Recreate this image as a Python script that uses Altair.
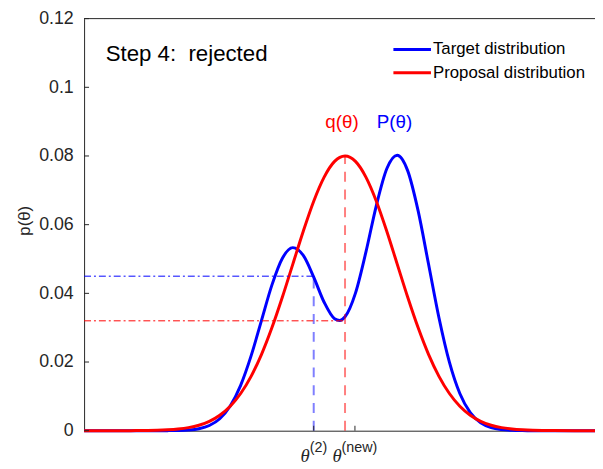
import altair as alt
import pandas as pd

# ---------------- data ----------------
theta = [-5.0, -4.6, -4.2, -4.0, -3.8, -3.6, -3.4, -3.2, -3.0, -2.8, -2.6, -2.4,
         -2.2, -2.0, -1.8, -1.6, -1.4, -1.2, -1.0, -0.8, -0.6, -0.4, -0.2, -0.1,
         0.0, 0.2, 0.4, 0.6, 0.8, 1.0, 1.2, 1.4, 1.6, 1.8, 2.0, 2.2, 2.4, 2.6,
         2.8, 3.0, 3.2, 3.4, 3.6, 3.8, 4.0, 4.4, 4.79]
target = [0.0, 0.0, 0.0, 0.0, 0.0, 0.000004, 0.000018, 0.000064, 0.000205, 0.000589,
          0.001514, 0.003483, 0.007171, 0.01322, 0.02179, 0.03215, 0.04247, 0.05024,
          0.05331, 0.05103, 0.04472, 0.03740, 0.03261, 0.03211, 0.03317, 0.04006,
          0.05200, 0.06557, 0.07627, 0.08021, 0.07574, 0.06408, 0.04852, 0.03289,
          0.01995, 0.01082, 0.00526, 0.00229, 0.00089, 0.00031, 0.00010, 0.00003,
          0.00001, 0.0, 0.0, 0.0, 0.0]
proposal = [0.0, 0.0, 0.00001, 0.00003, 0.00006, 0.00012, 0.00025, 0.00048, 0.00089,
            0.00159, 0.00272, 0.00449, 0.00711, 0.01083, 0.01583, 0.02224, 0.03003,
            0.03894, 0.04852, 0.05809, 0.06683, 0.07385, 0.07842, 0.0796, 0.08,
            0.07842, 0.07385, 0.06683, 0.05809, 0.04852, 0.03894, 0.03003, 0.02224,
            0.01583, 0.01083, 0.00711, 0.00449, 0.00272, 0.00159, 0.00089, 0.00048,
            0.00025, 0.00012, 0.00006, 0.00003, 0.0, 0.0]

series_names = ["Target distribution", "Proposal distribution"]
series_colors = ["#0000ff", "#ff0000"]

y_ticks = [0, 0.02, 0.04, 0.06, 0.08, 0.1, 0.12]
x_tick_values = [-0.6, 0.19]

theta_2 = -0.6          # theta^(2)
theta_new = 0.0         # theta^(new)
p_theta_2 = 0.045       # P(theta^(2)) level
p_theta_new = 0.032     # P(theta^(new)) level
q_theta_new = 0.08      # q(theta^(new))

X_MIN, X_MAX = -5.0, 4.79
Y_MIN, Y_MAX = 0.0, 0.12

title_text = "Step 4:\u00a0 rejected"
q_label = "q(θ)"
p_label = "P(θ)"

W, H = 517, 417
AXIS_COLOR = "#262626"
FONT = "Liberation Sans"

# ---------------- tables ----------------
df = pd.DataFrame({
    "theta": theta * 2,
    "p": target + proposal,
    "series": [series_names[0]] * len(theta) + [series_names[1]] * len(theta),
})

xs = alt.Scale(domain=[X_MIN, X_MAX], nice=False, zero=False)
ys = alt.Scale(domain=[Y_MIN, Y_MAX], nice=False, zero=False)
cs = alt.Scale(domain=series_names, range=series_colors)

x_axis = alt.Axis(domain=True, domainColor=AXIS_COLOR, domainWidth=1, labels=False,
                  ticks=False, grid=False, title=None)
y_axis = alt.Axis(values=y_ticks, format=".2~f", domain=True, domainColor=AXIS_COLOR,
                  domainWidth=1, ticks=False, grid=False, labelFont=FONT,
                  labelFontSize=18, labelColor=AXIS_COLOR, labelPadding=11,
                  title="p(θ)", titleFont=FONT, titleFontSize=17,
                  titleFontWeight="normal", titleColor=AXIS_COLOR,
                  titleAngle=270, titleX=-60, titleY=204, titleAlign="center",
                  titleBaseline="middle")


def X(field):
    return alt.X(field, scale=xs, axis=x_axis)


def Y(field):
    return alt.Y(field, scale=ys, axis=y_axis)


target_line = alt.Chart(df[df.series == series_names[0]]).mark_line(
    strokeWidth=3, interpolate="monotone"
).encode(
    x=X("theta:Q"), y=Y("p:Q"),
    color=alt.Color("series:N", scale=cs, legend=None),
)
proposal_line = alt.Chart(df[df.series == series_names[1]]).mark_line(
    strokeWidth=3, interpolate="monotone"
).encode(
    x=X("theta:Q"), y=Y("p:Q"),
    color=alt.Color("series:N", scale=cs, legend=None),
)

one = pd.DataFrame({"a": [0]})

# vertical dashed guides
vguides = pd.DataFrame({"x": [theta_2, theta_new], "y0": [0.0, 0.0],
                        "y2": [p_theta_2, q_theta_new],
                        "c": [series_colors[0], series_colors[1]]})
vlines = alt.Chart(vguides).mark_rule(strokeWidth=2, strokeDash=[10, 8], opacity=0.5).encode(
    x=X("x:Q"), y=Y("y0:Q"), y2="y2:Q",
    color=alt.Color("c:N", scale=None, legend=None),
)

# horizontal dash-dot guides
hguides = pd.DataFrame({"y": [p_theta_2, p_theta_new], "x0": [X_MIN, X_MIN],
                        "x2": [theta_2, theta_new],
                        "c": [series_colors[0], series_colors[1]]})
hlines = alt.Chart(hguides).mark_rule(strokeWidth=1, strokeDash=[7, 3, 2, 3]).encode(
    y=Y("y:Q"), x=X("x0:Q"), x2="x2:Q",
    color=alt.Color("c:N", scale=None, legend=None),
)

# inward ticks
ytick_rules = alt.Chart(pd.DataFrame({"y": y_ticks})).mark_rule(
    color=AXIS_COLOR, strokeWidth=1
).encode(y=Y("y:Q"), x=alt.value(0), x2=alt.value(5))
xtick_rules = alt.Chart(pd.DataFrame({"x": x_tick_values})).mark_rule(
    color=AXIS_COLOR, strokeWidth=1
).encode(x=X("x:Q"), y=alt.value(H), y2=alt.value(H - 5))
top_rule = alt.Chart(one).mark_rule(color=AXIS_COLOR, strokeWidth=1).encode(
    x=alt.value(0), x2=alt.value(W), y=alt.value(0)
)

# legend (box-less, as in the original figure)
LEG_X, LEG_Y, LEG_ROW, LEG_LEN = 313, 31.3, 23.4, 38
legend_layers = []
for i, (name, col) in enumerate(zip(series_names, series_colors)):
    ry = LEG_Y + i * LEG_ROW
    legend_layers.append(
        alt.Chart(one).mark_rule(strokeWidth=3, color=col).encode(
            x=alt.value(LEG_X), x2=alt.value(LEG_X + LEG_LEN), y=alt.value(ry))
    )
    legend_layers.append(
        alt.Chart(one).mark_text(font=FONT, fontSize=17, align="left", baseline="middle",
                                 color="#000000", text=name).encode(
            x=alt.value(LEG_X + LEG_LEN + 2), y=alt.value(ry))
    )

# annotations
step_text = alt.Chart(pd.DataFrame({"x": [-4.586], "y": [0.1076], "t": [title_text]})).mark_text(
    font=FONT, fontSize=22.5, align="left", baseline="alphabetic", color="#000000"
).encode(x=X("x:Q"), y=Y("y:Q"), text="t:N")

curve_labels = pd.DataFrame({"x": [-0.057, 0.946], "y": [0.0881, 0.0881],
                             "t": [q_label, p_label], "c": [series_colors[1], series_colors[0]]})
curve_text = alt.Chart(curve_labels).mark_text(
    font=FONT, fontSize=19, align="center", baseline="alphabetic"
).encode(x=X("x:Q"), y=Y("y:Q"),
         text="t:N", color=alt.Color("c:N", scale=None, legend=None))


# x tick labels theta^(2), theta^(new)
def theta_lbl(xv, dx):
    return alt.Chart(pd.DataFrame({"x": [xv]})).mark_text(
        font="Liberation Serif", fontStyle="italic", fontSize=19, align="right",
        baseline="alphabetic", dx=dx, color=AXIS_COLOR, text="θ"
    ).encode(x=X("x:Q"), y=alt.value(H + 32))


def sup_lbl(xv, dx, s):
    return alt.Chart(pd.DataFrame({"x": [xv]})).mark_text(
        font=FONT, fontSize=14.5, align="left", baseline="alphabetic", dx=dx,
        color=AXIS_COLOR, text=s
    ).encode(x=X("x:Q"), y=alt.value(H + 22))


tick_labels = [
    theta_lbl(x_tick_values[0], -4), sup_lbl(x_tick_values[0], -4, "(2)"),
    theta_lbl(x_tick_values[1], -13.5), sup_lbl(x_tick_values[1], -13.5, "(new)"),
]

chart = alt.layer(
    target_line, proposal_line, vlines, hlines, ytick_rules, xtick_rules, top_rule,
    step_text, curve_text, *tick_labels, *legend_layers
).properties(
    width=W, height=H,
    autosize=alt.AutoSizeParams(type="none"),
    padding={"left": 77, "top": 8, "right": 0, "bottom": 36},
    background="#ffffff",
).configure_view(stroke=None)

chart.save("out.html", embed_options={"renderer": "svg", "actions": False})
